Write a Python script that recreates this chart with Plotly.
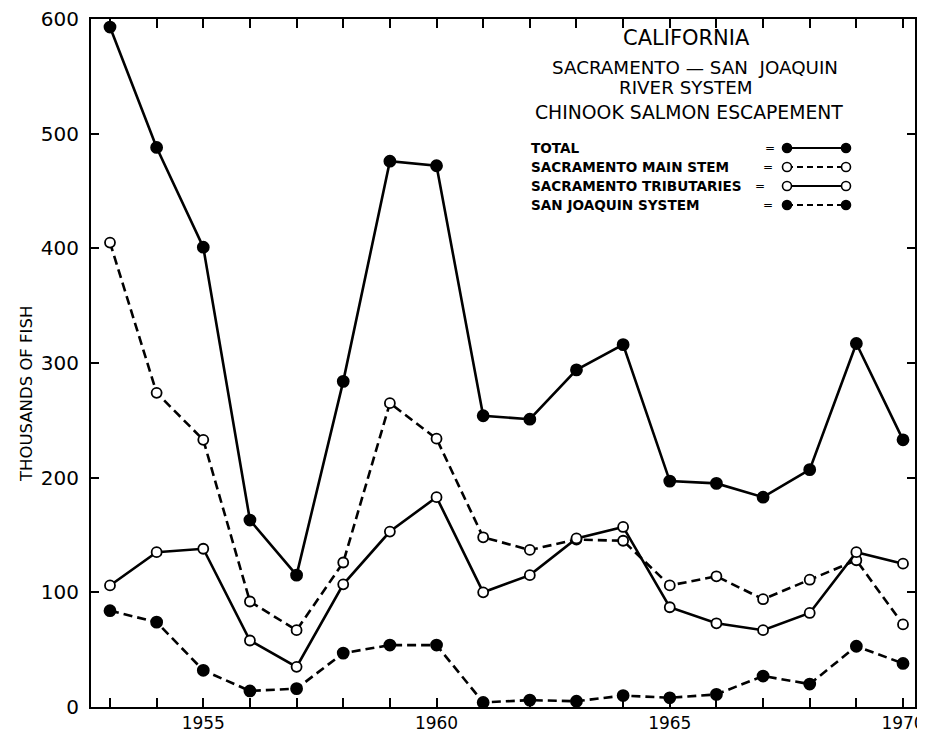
import plotly.graph_objects as go

# ---------------- data ----------------
years = list(range(1953, 1971))
total = [593, 488, 401, 163, 115, 284, 476, 472, 254, 251, 294, 316, 197, 195, 183, 207, 317, 233]
main_stem = [405, 274, 233, 92, 67, 126, 265, 234, 148, 137, 146, 145, 106, 114, 94, 111, 128, 72]
tributaries = [106, 135, 138, 58, 35, 107, 153, 183, 100, 115, 147, 157, 87, 73, 67, 82, 135, 125]
san_joaquin = [84, 74, 32, 14, 16, 47, 54, 54, 4, 6, 5, 10, 8, 11, 27, 20, 53, 38]

series_names = ["TOTAL", "SACRAMENTO MAIN STEM", "SACRAMENTO TRIBUTARIES", "SAN JOAQUIN SYSTEM"]
x_label_years = [1955, 1960, 1965, 1970]
y_ticks = [0, 100, 200, 300, 400, 500, 600]
title_lines = ["CALIFORNIA", "SACRAMENTO — SAN  JOAQUIN", "RIVER SYSTEM", "CHINOOK SALMON ESCAPEMENT"]
y_title = "THOUSANDS OF FISH"

# ---------------- layout geometry ----------------
# the page body adds an 8px margin, so the figure is drawn 8px smaller
OFF = 8
W, H = 925 - OFF, 736 - OFF
L, R, T, B = 83, 10, 11, 29
PW, PH = W - L - R, H - T - B
FONT = "DejaVu Sans"


def px(x):
    return (x - OFF - L) / PW


def py(y):
    return 1 - (y - OFF - T) / PH


styles = [
    dict(dash="solid", filled=True),
    dict(dash="9px,5px", filled=False),
    dict(dash="solid", filled=False),
    dict(dash="9px,5px", filled=True),
]
values = [total, main_stem, tributaries, san_joaquin]

fig = go.Figure()
for name, vals, st in zip(series_names, values, styles):
    fig.add_trace(go.Scatter(
        x=years, y=vals, name=name, mode="lines+markers",
        line=dict(color="black", width=2.6, dash=st["dash"]),
        marker=dict(
            symbol="circle",
            size=11 if st["filled"] else 10,
            color="black" if st["filled"] else "white",
            line=dict(color="black", width=1.8),
        ),
        showlegend=False,
    ))

ann = []
# title block
title_pos = [(686, 38.5, 21), (695, 67, 18.3), (686, 87.5, 18.3), (689, 112.5, 18.8)]
for text, (x, y, s) in zip(title_lines, title_pos):
    ann.append(dict(text=text, x=px(x), y=py(y), xref="paper", yref="paper",
                    xanchor="center", yanchor="middle", showarrow=False,
                    font=dict(family=FONT, size=s, color="black")))

# legend block
row_y = [148, 167, 186, 205]
eq_x = [770, 768, 760, 768]
shapes = []
for name, st, y, ex in zip(series_names, styles, row_y, eq_x):
    ann.append(dict(text=name, x=px(529), y=py(y), xref="paper", yref="paper",
                    xanchor="left", yanchor="middle", showarrow=False,
                    font=dict(family=FONT, size=13.6, color="black", weight="bold")))
    ann.append(dict(text="=", x=px(ex), y=py(y), xref="paper", yref="paper",
                    xanchor="center", yanchor="middle", showarrow=False,
                    font=dict(family=FONT, size=12, color="black")))
    x0, x1 = 787, 846
    shapes.append(dict(type="line", xref="paper", yref="paper",
                       x0=px(x0), x1=px(x1), y0=py(y), y1=py(y),
                       line=dict(color="black", width=2.2,
                                 dash="solid" if st["dash"] == "solid" else "6px,4px")))
    r = 4.5
    for cx in (x0, x1):
        shapes.append(dict(type="circle", xref="paper", yref="paper",
                           x0=px(cx - r), x1=px(cx + r), y0=py(y + r), y1=py(y - r),
                           fillcolor="black" if st["filled"] else "white",
                           line=dict(color="black", width=1.6)))

# y axis title
ann.append(dict(text=y_title, x=px(26), y=py(394), xref="paper", yref="paper",
                xanchor="center", yanchor="middle", showarrow=False, textangle=-90,
                font=dict(family=FONT, size=16.5, color="black")))

fig.update_layout(
    width=W, height=H,
    margin=dict(l=L, r=R, t=T, b=B, pad=0, autoexpand=False),
    paper_bgcolor="white", plot_bgcolor="white",
    annotations=ann, shapes=shapes,
    showlegend=False,
)
fig.update_xaxes(
    range=[1952.593, 1970.257],
    tickmode="array", tickvals=years,
    ticktext=[str(y) if y in x_label_years else "" for y in years],
    ticks="inside", ticklen=9, tickwidth=1.5, tickcolor="black",
    showline=True, linewidth=2, linecolor="black", mirror="allticks",
    showgrid=False, zeroline=False, automargin=False,
    tickfont=dict(family=FONT, size=17, color="black"),
    ticklabeloverflow="allow",
    ticklabelstandoff=0,
)
fig.update_yaxes(
    range=[0, 600],
    tickmode="array", tickvals=y_ticks, ticktext=[str(v) for v in y_ticks],
    ticks="inside", ticklen=8, tickwidth=1.5, tickcolor="black",
    showline=True, linewidth=2, linecolor="black", mirror="allticks",
    showgrid=False, zeroline=False, automargin=False,
    tickfont=dict(family=FONT, size=20, color="black"),
    ticklabeloverflow="allow",
    ticklabelstandoff=6,
)

fig.write_html("out.html")
